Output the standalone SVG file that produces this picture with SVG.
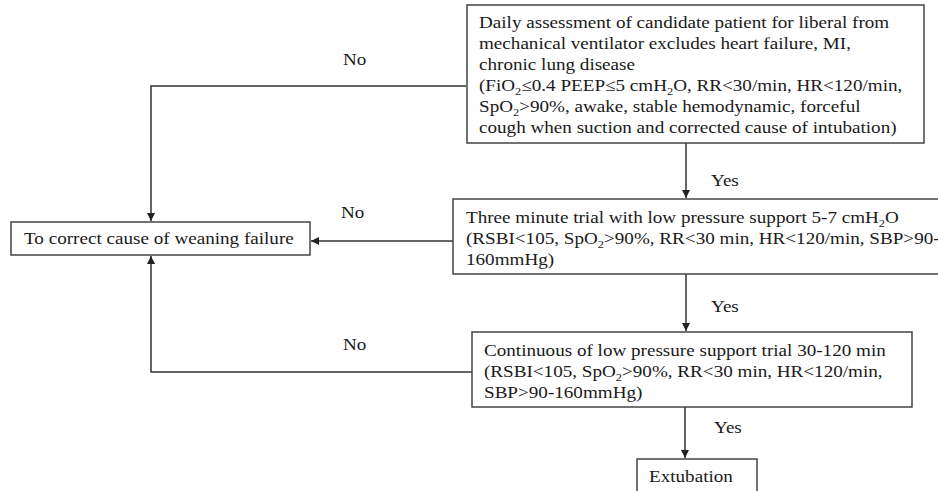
<svg xmlns="http://www.w3.org/2000/svg" width="938" height="491" viewBox="0 0 938 491">
<style>
text{font-family:"Liberation Serif","Times New Roman",serif;font-size:17px;fill:#1a1a1a}
.box{fill:#fff;stroke:#444;stroke-width:1.5}
.ln{fill:none;stroke:#333;stroke-width:1.5}
.s{font-size:11px}
</style>
<defs>
<marker id="ah" viewBox="0 0 10 10" refX="10" refY="5" markerWidth="8" markerHeight="8" orient="auto" markerUnits="userSpaceOnUse">
<path d="M0,0 L10,5 L0,10 z" fill="#222"/>
</marker>
</defs>
<rect width="938" height="491" fill="#fff"/>
<g id="connectors">
<polyline class="ln" points="466,86 151,86 151,221" marker-end="url(#ah)"/>
<line class="ln" x1="686" y1="143" x2="686" y2="198" marker-end="url(#ah)"/>
<line class="ln" x1="453" y1="241" x2="311" y2="241" marker-end="url(#ah)"/>
<line class="ln" x1="686" y1="274" x2="686" y2="331" marker-end="url(#ah)"/>
<polyline class="ln" points="472,372 151,372 151,256" marker-end="url(#ah)"/>
<line class="ln" x1="685" y1="407" x2="685" y2="458" marker-end="url(#ah)"/>
<text transform="translate(343 65) scale(1.125 1)">No</text>
<text transform="translate(341 218) scale(1.125 1)">No</text>
<text transform="translate(343 350) scale(1.125 1)">No</text>
<text transform="translate(711 186) scale(1.125 1)">Yes</text>
<text transform="translate(711 312) scale(1.125 1)">Yes</text>
<text transform="translate(714 433) scale(1.125 1)">Yes</text>
</g>
<g id="assessment">
<rect class="box" x="467" y="5" width="457" height="138"/>
<g transform="translate(479 0) scale(1.125 1)">
<text y="28">Daily assessment of candidate patient for liberal from</text>
<text y="49">mechanical ventilator excludes heart failure, MI,</text>
<text y="70">chronic lung disease</text>
<text y="91">(FiO<tspan class="s" dy="4">2</tspan><tspan dy="-4">≤0.4 PEEP≤5 cmH</tspan><tspan class="s" dy="4">2</tspan><tspan dy="-4">O, RR&lt;30/min, HR&lt;120/min,</tspan></text>
<text y="112">SpO<tspan class="s" dy="4">2</tspan><tspan dy="-4">&gt;90%, awake, stable hemodynamic, forceful</tspan></text>
<text y="133">cough when suction and corrected cause of intubation)</text>
</g>
</g>
<g id="correct">
<rect class="box" x="11" y="222" width="299" height="33"/>
<text transform="translate(24 244) scale(1.125 1)">To correct cause of weaning failure</text>
</g>
<g id="three-minute">
<rect class="box" x="453" y="199" width="500" height="75"/>
<g transform="translate(466 0) scale(1.125 1)">
<text y="223">Three minute trial with low pressure support 5-7 cmH<tspan class="s" dy="4">2</tspan><tspan dy="-4">O</tspan></text>
<text y="244">(RSBI&lt;105, SpO<tspan class="s" dy="4">2</tspan><tspan dy="-4">&gt;90%, RR&lt;30 min, HR&lt;120/min, SBP&gt;90-</tspan></text>
<text y="265">160mmHg)</text>
</g>
</g>
<g id="continuous">
<rect class="box" x="472" y="332" width="440" height="75"/>
<g transform="translate(484 0) scale(1.125 1)">
<text y="356">Continuous of low pressure support trial 30-120 min</text>
<text y="377">(RSBI&lt;105, SpO<tspan class="s" dy="4">2</tspan><tspan dy="-4">&gt;90%, RR&lt;30 min, HR&lt;120/min,</tspan></text>
<text y="398">SBP&gt;90-160mmHg)</text>
</g>
</g>
<g id="extubation">
<rect class="box" x="637" y="459" width="120" height="40"/>
<text transform="translate(649 482) scale(1.125 1)">Extubation</text>
</g>
</svg>
